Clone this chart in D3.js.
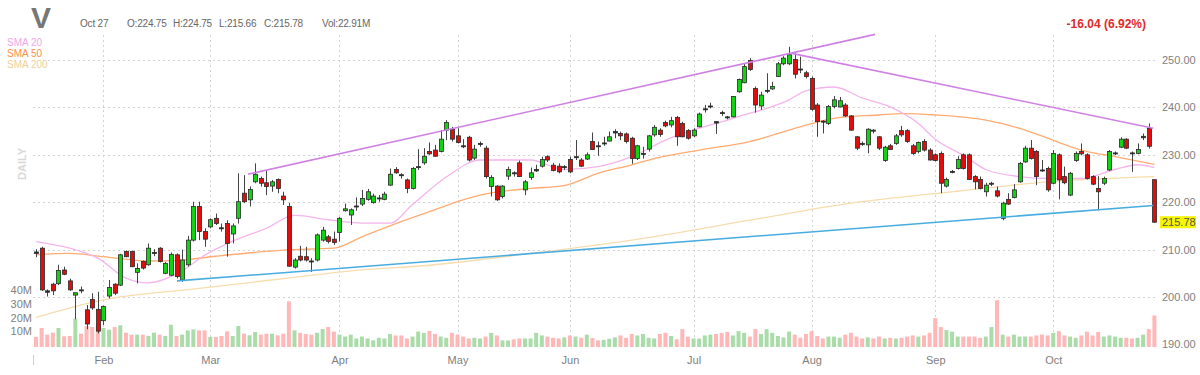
<!DOCTYPE html>
<html>
<head>
<meta charset="utf-8">
<script src="https://cdn.jsdelivr.net/npm/d3@7"></script>
<style>
  body { margin: 0; background: #fff; }
  text { font-family: "Liberation Sans", Arial, sans-serif; }
</style>
</head>
<body>
<svg id="chart" width="1200" height="375"></svg>
<script>
// month labels and the trading-day index where each month starts
var months = ["Feb", "Mar", "Apr", "May", "Jun", "Jul", "Aug", "Sep", "Oct"];
var monthStart = [12, 31, 54, 75, 95, 117, 138, 160, 181];
var priceTicks = [190, 200, 210, 220, 230, 240, 250];
var volTicks = [10, 20, 30, 40];

// daily candles [open, high, low, close], mid Jan -> Oct 27
var candles = [
  [209.5,210.1,208.4,209.2],[210.3,210.6,201.3,201.5],[201.3,201.6,200.1,201.0],[202.7,203.0,200.4,201.3],[202.8,206.8,202.5,205.6],
  [205.7,206.4,204.6,204.8],[203.4,203.9,201.3,201.5],[200.4,200.9,195.3,200.9],[201.5,202.2,200.8,201.4],[197.3,198.3,193.2,194.3],
  [199.5,200.8,197.3,197.7],[197.4,201.1,192.3,192.8],[195.0,198.2,194.1,198.0],[200.2,203.6,199.7,202.0],[202.7,202.9,200.4,200.8],
  [202.5,209.1,202.3,208.9],[209.6,209.8,208.4,208.5],[209.6,209.8,206.3,206.4],[205.2,207.1,202.9,206.0],[207.5,207.7,205.8,206.1],
  [206.8,211.3,206.6,210.3],[209.2,210.1,208.6,209.4],[210.3,210.5,207.3,207.5],[205.0,207.4,204.8,207.1],[204.6,209.4,204.4,209.0],
  [208.9,209.2,203.9,204.3],[203.6,210.0,203.2,207.8],[206.8,212.9,206.4,212.0],[212.0,220.1,211.7,219.1],[219.1,220.1,212.0,213.8],
  [213.8,214.5,210.6,212.2],[214.8,216.6,214.5,216.3],[216.6,217.6,215.2,215.5],[214.6,215.5,213.8,214.5],[215.5,216.2,208.5,211.3],
  [213.3,215.5,211.3,215.0],[216.6,226.1,215.5,220.1],[221.9,225.7,219.8,220.1],[220.5,223.3,219.1,222.7],[224.3,228.2,224.0,225.9],
  [225.0,225.4,223.3,224.0],[224.1,226.8,221.5,223.3],[223.4,224.7,222.2,224.3],[224.8,225.0,221.9,222.9],[221.3,222.2,219.4,220.5],
  [219.1,219.8,206.4,206.5],[206.3,208.2,206.0,207.8],[208.6,210.8,207.5,207.8],[208.5,210.6,207.5,207.8],[207.6,208.2,205.3,207.5],
  [207.8,213.4,207.5,213.1],[212.0,214.8,211.7,214.1],[212.7,213.1,211.3,211.7],[212.2,213.8,211.0,211.5],[213.6,216.9,211.7,216.6],
  [218.2,219.7,218.0,218.6],[217.3,218.7,215.2,218.4],[219.0,221.0,218.2,219.2],[219.6,222.6,219.2,220.8],[220.6,222.8,220.3,222.2],
  [219.9,221.8,219.7,221.3],[220.7,221.5,220.1,220.9],[220.6,222.2,220.4,221.7],[223.6,227.1,223.4,225.9],[226.9,227.4,226.0,226.2],
  [225.8,226.1,225.0,225.6],[224.7,225.0,221.9,222.9],[222.9,227.4,222.7,227.1],[227.3,231.2,226.8,227.5],[228.3,231.4,227.9,229.7],
  [230.7,232.6,230.0,230.2],[231.0,232.1,229.6,229.7],[230.7,235.2,230.5,233.3],[235.2,237.3,233.1,236.8],[235.4,235.9,232.8,233.3],
  [234.0,235.6,232.4,232.6],[231.9,233.3,231.4,231.8],[233.7,234.0,228.6,228.9],[229.3,232.1,228.9,231.2],[232.2,232.8,231.7,232.4],
  [231.4,231.9,225.0,225.4],[223.3,225.7,221.2,225.2],[223.4,223.6,220.3,220.5],[221.2,223.6,220.8,223.4],[225.5,227.5,224.7,226.9],
  [226.2,226.5,225.4,226.0],[228.3,228.8,225.3,225.4],[222.6,224.7,221.5,224.3],[225.2,227.3,224.7,226.2],[226.6,227.9,226.4,226.9],
  [227.6,229.6,227.3,229.0],[229.6,229.9,228.5,228.9],[227.8,228.3,226.5,226.7],[227.6,228.2,226.1,226.4],[227.3,227.8,226.8,227.5],
  [229.0,229.6,226.1,226.4],[229.4,233.1,228.9,229.6],[228.9,229.3,227.4,227.6],[229.1,230.5,228.9,230.0],[232.8,234.7,231.0,231.1],
  [231.9,232.8,229.8,231.7],[232.3,233.8,231.9,232.5],[232.9,234.9,232.8,233.8],[234.6,235.4,233.5,234.9],[234.5,234.9,233.1,234.0],
  [234.4,234.7,232.4,232.8],[233.5,233.8,228.1,229.2],[229.2,232.1,228.9,231.9],[230.2,231.7,229.2,230.3],[231.2,234.2,230.7,234.0],
  [234.2,236.3,233.8,235.8],[235.2,235.6,233.8,234.3],[236.8,237.2,235.8,236.1],[236.3,238.0,235.8,237.2],[237.9,238.2,231.9,233.8],
  [236.6,237.0,233.7,233.8],[235.1,235.4,233.2,233.5],[234.0,235.6,233.7,235.2],[235.9,238.9,235.8,238.6],[239.5,240.5,238.9,239.7],
  [240.1,241.0,239.8,240.3],[237.0,237.0,234.4,236.7],[238.9,239.3,238.2,238.8],[238.0,238.2,237.5,237.8],[238.0,242.4,237.9,242.3],
  [243.3,246.1,243.1,245.9],[245.2,249.2,245.1,248.6],[249.9,250.4,247.7,248.0],[244.0,244.4,238.9,240.5],[240.3,243.3,239.5,242.6],
  [243.4,247.2,243.0,243.6],[243.9,245.4,243.7,244.4],[246.5,249.6,246.4,249.2],[249.2,250.8,248.9,250.4],[249.2,252.8,248.9,251.1],
  [250.1,251.4,246.1,247.0],[248.1,250.7,247.2,247.9],[247.3,247.7,246.1,246.5],[246.1,246.5,239.3,239.6],[240.5,240.9,233.8,237.0],
  [237.1,237.3,234.5,236.9],[236.6,240.5,236.3,240.2],[240.2,242.4,239.8,241.6],[240.1,242.2,240.0,241.4],[240.5,240.9,238.0,238.2],
  [238.2,238.4,235.1,235.2],[233.8,233.9,231.0,231.4],[232.4,232.8,231.9,232.2],[232.1,235.6,230.3,235.4],[235.2,235.4,234.5,235.0],
  [233.8,233.9,231.0,231.4],[228.8,231.9,228.5,231.6],[231.9,232.3,231.0,231.1],[232.4,234.4,232.1,234.0],[235.1,236.1,233.8,234.2],
  [235.1,235.4,232.5,232.8],[231.9,232.3,230.0,230.3],[230.7,232.8,230.3,232.6],[232.8,233.3,230.7,231.0],[231.0,231.4,228.8,228.9],
  [230.0,230.3,228.6,228.8],[230.3,230.7,221.9,224.0],[223.4,225.2,223.1,224.8],[226.3,226.8,226.1,226.5],[227.1,229.7,226.9,229.0],
  [230.0,230.3,226.9,227.1],[230.0,230.3,224.7,224.8],[225.4,225.7,222.7,224.3],[224.8,225.4,222.7,222.9],[222.2,224.1,221.2,223.6],
  [223.8,224.3,223.4,224.0],[222.4,223.3,221.0,221.3],[216.6,220.1,216.2,219.8],[220.6,221.9,219.4,219.6],[221.0,223.8,220.8,222.6],
  [224.3,228.5,224.1,228.2],[228.5,231.9,228.3,231.4],[231.4,233.1,229.0,229.2],[230.7,231.0,223.6,225.4],[226.8,228.9,226.4,226.6],
  [227.1,227.5,222.2,222.6],[224.0,231.0,223.8,230.3],[230.0,230.3,220.6,224.7],[225.4,227.5,223.8,224.1],[221.5,226.4,221.3,226.1],
  [228.8,230.7,228.5,230.3],[230.7,232.4,229.9,230.2],[230.0,230.3,224.8,225.0],[225.4,225.7,223.6,223.8],[222.9,225.5,218.3,222.2],
  [224.0,225.4,223.6,225.0],[226.8,231.0,226.6,230.7],[230.2,230.7,229.9,230.4],[231.6,233.7,231.4,233.3],[233.3,233.5,231.2,231.4],
  [230.4,230.7,226.4,230.2],[230.3,232.4,230.1,231.1],[233.6,234.5,233.1,233.9],[235.6,236.6,231.3,231.8],[224.75,224.75,215.66,215.78]
];

// daily volume, millions
var volumes = [
  7.3, 13.8, 9.0, 10.4, 13.8, 7.8, 8.0, 20.6, 9.7, 15.3,
  14.5, 16.2, 13.8, 12.6, 14.5, 15.8, 10.4, 9.0, 9.0, 9.0,
  8.0, 10.4, 9.0, 8.0, 16.2, 8.0, 9.0, 12.1, 12.8, 12.1,
  12.1, 7.3, 7.3, 8.0, 11.4, 8.0, 15.3, 9.7, 8.5, 10.9,
  9.0, 9.7, 9.7, 8.5, 9.7, 33.2, 12.1, 10.3, 9.5, 9.0,
  10.3, 13.1, 14.5, 11.2, 9.0, 7.6, 9.0, 6.2, 7.6, 6.2,
  4.8, 6.7, 6.2, 9.5, 8.4, 8.4, 6.2, 7.6, 11.2, 10.3,
  11.7, 9.5, 7.6, 6.7, 10.3, 9.0, 7.6, 6.2, 6.7, 6.2,
  7.6, 10.3, 8.4, 4.8, 4.8, 5.6, 6.2, 6.2, 6.2, 10.3,
  8.4, 7.6, 6.7, 6.2, 7.0, 8.4, 7.6, 6.7, 9.0, 6.5,
  4.8, 5.2, 6.0, 7.0, 8.4, 6.7, 9.5, 8.4, 9.5, 6.7,
  6.2, 9.5, 10.3, 8.0, 5.6, 13.0, 7.5, 6.2, 6.2, 8.4,
  9.0, 9.5, 10.3, 11.0, 8.4, 11.5, 10.3, 7.6, 13.0, 9.5,
  13.0, 10.3, 8.0, 7.0, 11.2, 9.0, 6.7, 9.5, 11.5, 8.0,
  6.2, 7.6, 7.6, 6.7, 9.0, 10.3, 7.6, 6.2, 7.0, 6.2,
  7.6, 6.2, 6.7, 6.2, 6.7, 7.6, 8.4, 7.6, 8.4, 10.3,
  21.0, 14.5, 12.3, 11.2, 7.6, 7.6, 7.6, 7.6, 6.7, 7.6,
  14.5, 34.0, 9.0, 7.6, 9.0, 7.6, 7.6, 7.6, 8.4, 9.0,
  8.4, 10.3, 11.5, 8.4, 7.6, 6.7, 8.4, 11.2, 8.4, 11.0,
  7.6, 8.4, 7.6, 6.7, 6.7, 6.2, 6.7, 9.0, 13.0, 22.91
];

// moving averages, [day index, value]
var sma20 = [[0,211.7],[6,210.3],[11,208.2],[16,204.0],[20,203.0],[26,205.5],[30,208.8],[35,211.8],[41,214.5],[46,217.2],
  [52,216.3],[58,215.6],[63,215.6],[67,219.5],[73,225.3],[79,228.9],[88,228.9],[94,226.9],[100,227.5],[106,229.6],
  [112,233.1],[124,237.7],[134,241.6],[137,243.5],[142,244.3],[147,242.0],[152,240.1],[157,236.6],[160,233.3],[165,229.9],
  [169,226.9],[175,225.4],[180,225.0],[186,225.0],[192,226.9],[196,227.9],[199,227.3]];
var sma50 = [[0,208.9],[6,209.2],[12,208.5],[20,207.6],[26,207.8],[32,208.6],[44,209.9],[53,210.3],[58,212.7],[64,215.5],
  [70,218.0],[76,220.5],[79,221.5],[88,222.9],[94,223.5],[100,226.1],[106,227.9],[109,228.9],[118,231.0],[127,232.8],
  [136,235.9],[142,237.7],[150,238.4],[154,238.7],[160,238.4],[169,237.3],[175,235.6],[180,233.5],[186,231.0],[192,229.6],[199,228.0]];
var sma200 = [[0,195.7],[12,199.4],[29,201.8],[47,204.3],[56,205.5],[70,206.7],[88,209.2],[106,212.0],[127,216.2],
  [145,219.8],[163,222.2],[180,224.3],[199,225.4]];

// trend lines, [day index, price] end points
var upperTrend = [[37.7,225.9],[149.3,255.4]];
var downTrend = [[134.5,251.4],[198.8,235.6]];
var supportTrend = [[25.1,203.4],[198.8,219.3]];

var header = ["Oct 27", "O:224.75", "H:224.75", "L:215.66", "C:215.78", "Vol:22.91M"];
var headerX = [80, 127, 173, 219, 264, 322];

var svg = d3.select("#chart");

var x = d3.scaleLinear().domain([0, candles.length - 1]).range([36, 1154.4]),
    y = d3.scaleLinear().domain([190, 250]).range([344.4, 60]),
    yv = d3.scaleLinear().domain([0, 40]).range([347, 292]);

/* dashed grid */
var grid = svg.append("g").attr("class", "grid");
grid.selectAll("line.h")
    .data(priceTicks.filter(function(d) { return d > 190; }))
  .enter().append("line")
    .attr("x1", 33).attr("x2", 1157)
    .attr("y1", function(d) { return Math.round(y(d)) + 0.5; })
    .attr("y2", function(d) { return Math.round(y(d)) + 0.5; })
    .attr("stroke", "#d2d2d2")
    .attr("stroke-dasharray", "2,3");
grid.selectAll("line.v")
    .data(monthStart)
  .enter().append("line")
    .attr("x1", function(d) { return Math.round(x(d)) + 0.5; })
    .attr("x2", function(d) { return Math.round(x(d)) + 0.5; })
    .attr("y1", 35).attr("y2", 347)
    .attr("stroke", "#d2d2d2")
    .attr("stroke-dasharray", "2,3");

/* volume */
svg.append("g").selectAll("rect")
    .data(volumes)
  .enter().append("rect")
    .attr("x", function(d, i) { return x(i) - 2; })
    .attr("y", function(d) { return yv(d); })
    .attr("width", 4)
    .attr("height", function(d) { return yv(0) - yv(d); })
    .attr("fill", function(d, i) { return candles[i][3] >= candles[i][0] ? "#a9dca9" : "#ffb7b7"; });

/* moving averages */
var smaLine = d3.line()
    .x(function(d) { return x(d[0]); })
    .y(function(d) { return y(d[1]); })
    .curve(d3.curveMonotoneX);

[[sma200, "#f7dcae"], [sma50, "#ffab72"], [sma20, "#f5b4ec"]].forEach(function(s) {
  svg.append("path").datum(s[0])
      .attr("d", smaLine)
      .attr("fill", "none")
      .attr("stroke", s[1])
      .attr("stroke-width", 1.3);
});

/* candles */
var cg = svg.append("g").attr("class", "candles");
var c = cg.selectAll("g").data(candles).enter().append("g");
c.append("line")
    .attr("x1", function(d, i) { return Math.round(x(i)) + 0.5; })
    .attr("x2", function(d, i) { return Math.round(x(i)) + 0.5; })
    .attr("y1", function(d) { return y(d[1]); })
    .attr("y2", function(d) { return y(d[2]); })
    .attr("stroke", "#444")
    .attr("stroke-width", 1);
c.append("rect")
    .attr("x", function(d, i) { return Math.round(x(i)) - 1.5; })
    .attr("y", function(d) { return y(Math.max(d[0], d[3])); })
    .attr("width", 4)
    .attr("height", function(d) { return Math.max(1, Math.abs(y(d[0]) - y(d[3]))); })
    .attr("fill", function(d) {
      if (Math.abs(y(d[0]) - y(d[3])) < 1.5) return "#333";
      return d[3] >= d[0] ? "#12d312" : "#e00d0d";
    })
    .attr("stroke", "#2a2a2a")
    .attr("stroke-width", 0.8);

/* trend lines */
var tl = d3.line()
    .x(function(d) { return x(d[0]); })
    .y(function(d) { return y(d[1]); });
[[upperTrend, "#cf82e3"], [downTrend, "#cf82e3"], [supportTrend, "#48ace0"]].forEach(function(t) {
  svg.append("path").datum(t[0])
      .attr("d", tl)
      .attr("fill", "none")
      .attr("stroke", t[1])
      .attr("stroke-width", 1.6);
});

/* right price axis */
var yAxis = d3.axisRight(y)
    .tickValues(priceTicks)
    .tickSize(0)
    .tickPadding(3)
    .tickFormat(d3.format(".2f"));
var gY = svg.append("g").attr("transform", "translate(1159,0)").call(yAxis);
gY.select(".domain").remove();
gY.selectAll("text").attr("fill", "#808080").style("font-size", "11px");

/* last price marker */
var last = candles[candles.length - 1][3];
svg.append("rect")
    .attr("x", 1160).attr("y", y(last) - 6)
    .attr("width", 36).attr("height", 12)
    .attr("fill", "#f6f600");
svg.append("text")
    .attr("x", 1162).attr("y", y(last))
    .attr("dy", "0.35em")
    .attr("fill", "#555")
    .style("font-size", "11px")
    .text(d3.format(".2f")(last));

/* month axis */
var xAxis = d3.axisBottom(x)
    .tickValues(monthStart)
    .tickSize(0)
    .tickPadding(3)
    .tickFormat(function(d, i) { return months[i]; });
var gX = svg.append("g").attr("transform", "translate(0,353)").call(xAxis);
gX.select(".domain").remove();
gX.selectAll("text").attr("fill", "#808080").style("font-size", "11px");
svg.append("line")
    .attr("x1", 33.5).attr("x2", 33.5).attr("y1", 355).attr("y2", 365)
    .attr("stroke", "#ccc");

/* volume axis */
var vAxis = d3.axisLeft(yv)
    .tickValues(volTicks)
    .tickSize(0)
    .tickPadding(1)
    .tickFormat(function(d) { return d + "M"; });
var gV = svg.append("g").attr("transform", "translate(33,-2)").call(vAxis);
gV.select(".domain").remove();
gV.selectAll("text").attr("fill", "#808080").style("font-size", "11px");

/* header */
svg.append("text")
    .attr("x", 31).attr("y", 28)
    .attr("fill", "#777")
    .style("font-size", "30px").style("font-weight", "bold")
    .text("V");
svg.selectAll("text.hdr").data(header).enter().append("text")
    .attr("class", "hdr")
    .attr("x", function(d, i) { return headerX[i]; })
    .attr("y", 27)
    .attr("fill", "#666")
    .style("font-size", "10px")
    .style("letter-spacing", "-0.2px")
    .text(function(d) { return d; });
svg.append("text")
    .attr("x", 1146).attr("y", 28)
    .attr("text-anchor", "end")
    .attr("fill", "#e0292b")
    .style("font-size", "12px").style("font-weight", "bold")
    .text("-16.04 (6.92%)");

/* legend */
[["SMA 20", "#f2a6e6"], ["SMA 50", "#ff8f4a"], ["SMA 200", "#f0d09a"]].forEach(function(l, i) {
  svg.append("text")
      .attr("x", 7).attr("y", 46 + i * 11)
      .attr("fill", l[1])
      .style("font-size", "10px")
      .text(l[0]);
});

svg.append("text")
    .attr("transform", "translate(26,180) rotate(-90)")
    .attr("fill", "#d8d8d8")
    .style("font-size", "11px").style("font-weight", "bold")
    .text("DAILY");
</script>
</body>
</html>
